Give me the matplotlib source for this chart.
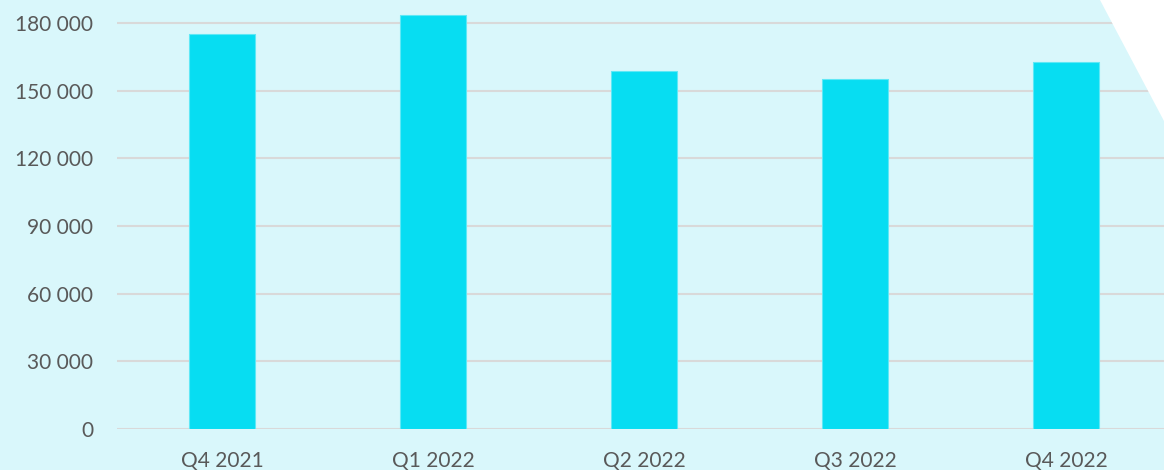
import matplotlib
matplotlib.use("Agg")
import matplotlib.pyplot as plt
from matplotlib.patches import Polygon
from matplotlib.ticker import FuncFormatter

# datos
trimestres = ["Q4 2021", "Q1 2022", "Q2 2022", "Q3 2022", "Q4 2022"]
valores = [175100, 183500, 158700, 155200, 162700]
ticks_y = [0, 30000, 60000, 90000, 120000, 150000, 180000]

fondo = "#d9f7fb"
color_barra = "#07ddf2"
color_texto = "#595959"

plt.rcParams["font.family"] = ["Lato", "DejaVu Sans"]

fig = plt.figure(figsize=(11.64, 4.70), dpi=100)
fig.patch.set_facecolor(fondo)

# triangulo blanco en la esquina superior derecha
tri = Polygon([[1100 / 1164, 1.0], [1.0, 1.0], [1.0, 1 - 121 / 470]],
              closed=True, transform=fig.transFigure, facecolor="white",
              edgecolor="none", zorder=0)
fig.patches.append(tri)

ax = fig.add_axes([117 / 1164, 41 / 470, 1047 / 1164, 429 / 470])
ax.patch.set_alpha(0)

x = list(range(len(trimestres)))
ax.bar(x, valores, width=0.313, color=color_barra, edgecolor="#5fe8f6",
       linewidth=0.8, zorder=3)

ax.set_xlim(-0.5, 4.5 - 7.5 / 211)
ax.set_ylim(0, 180000 * 429 / 406)
ax.set_yticks(ticks_y)
ax.yaxis.set_major_formatter(FuncFormatter(lambda v, p: f"{int(v):,}".replace(",", " ")))
ax.set_xticks(x)
ax.set_xticklabels(trimestres)

ax.grid(axis="y", color="#d9d9d9", linewidth=1.5, zorder=0)
for s in ax.spines.values():
    s.set_visible(False)
ax.tick_params(axis="both", length=0, labelsize=15, labelcolor=color_texto)
ax.tick_params(axis="y", pad=17)
ax.tick_params(axis="x", pad=16)

fig.savefig("out.png", dpi=100, facecolor=fondo)
